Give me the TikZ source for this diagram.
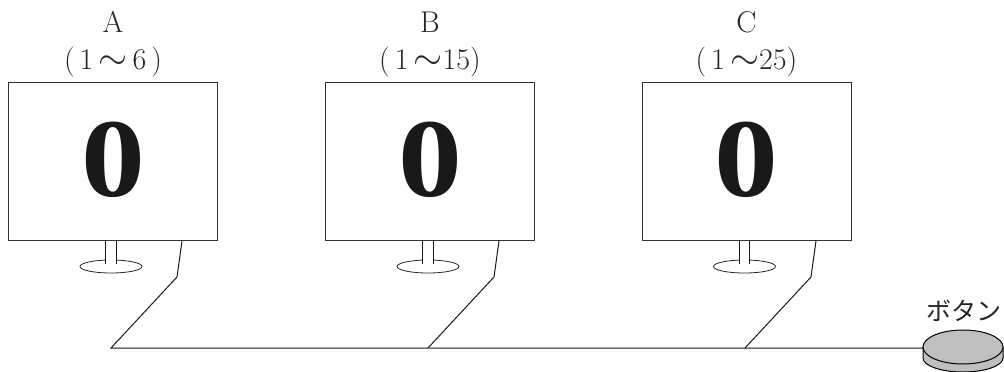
\documentclass[tikz,border=0pt]{standalone}
\usepackage{fontspec}
\newfontfamily\cjk{Noto Sans CJK JP}[Scale=1]
\newfontfamily\numfont{Liberation Serif}[BoldFont={Liberation Serif Bold}]
\newcommand{\wavedash}{\scalebox{1.5}{$\sim$}}
\tikzset{
  wire/.style={draw=black!90,line width=1pt,line join=miter},
  screen/.style={draw=black!80,line width=1pt,fill=white,minimum width=209pt,minimum height=158.5pt,inner sep=0pt},
  label/.style={font=\fontsize{30}{32}\selectfont,inner sep=0pt,anchor=center,text=black!85},
  digit/.style={font=\numfont\fontsize{112}{114}\bfseries\selectfont,inner sep=0pt,text=black!90,xscale=1.14},
  basefoot/.style={draw=black!85,line width=0.8pt,fill=white},
}
\begin{document}
\begin{tikzpicture}[x=1pt,y=-1pt]
\useasboundingbox (0,0) rectangle (1004,372);
\foreach \nm/\cx/\letter/\range/\wx/\wy/\kx/\ky/\jx in {%
  A/113/A/{(\,1\,\wavedash\,6\,)}/182/241/177/277/111,
  B/430/B/{(\,1\,\wavedash15)}/499/241/494/277/428,
  C/746.5/C/{(\,1\,\wavedash25)}/816/241/811/277/745}{
  \draw[basefoot] (\cx-2,266.5) ellipse (31 and 6.5);
  \fill[white] (\cx-7,241) rectangle (\cx+3,264);
  \draw[wire] (\cx-7.5,241) -- (\cx-7.5,264) (\cx+3,241) -- (\cx+3,264);
  \node[screen] (scr\nm) at (\cx,161.5) {};
  \node[digit] (dig\nm) at (\cx,159.5) {0};
  \node[label] (title\nm) at (\cx,22) {\letter};
  \node[label] (range\nm) at (\cx,62.5) {\range};
  \coordinate (w\nm) at (\wx,\wy);
  \coordinate (k\nm) at (\kx,\ky);
  \coordinate (j\nm) at (\jx,348);
}
\draw[wire] (wA) -- (kA) -- (jA) -- (925,348);
\draw[wire] (wB) -- (kB) -- (jB);
\draw[wire] (wC) -- (kC) -- (jC);
\node[label,font=\cjk\fontsize{25}{27}\selectfont] (btn) at (964,311) {ボタン};
\path[draw=black,line width=1pt,fill=black!25]
  (923,347) -- (923,358) arc[start angle=180,end angle=0,x radius=40,y radius=14] -- (1003,347) -- cycle;
\draw[black,line width=1pt,fill=black!25] (963,347) ellipse (40 and 17);
\end{tikzpicture}
\end{document}
